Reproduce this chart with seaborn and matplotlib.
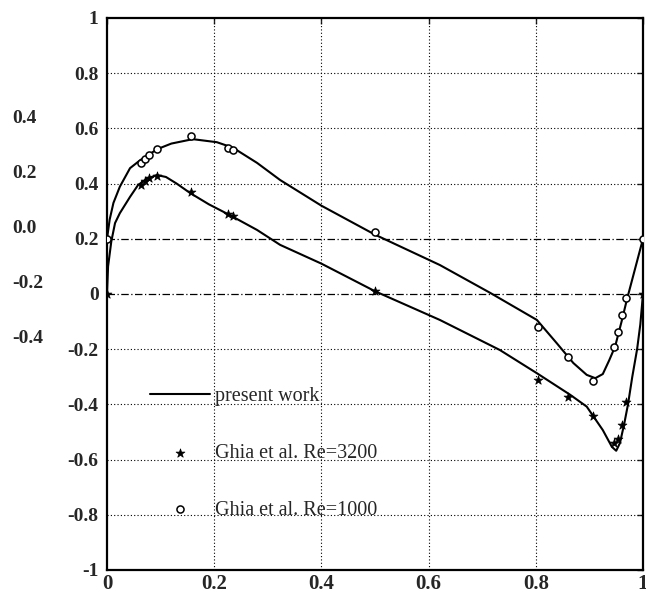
import numpy as np
import pandas as pd
import matplotlib
matplotlib.use("Agg")
import matplotlib.pyplot as plt
import seaborn as sns

# Present work, Re=1000 (plotted shifted by +0.2)
pw1000_x = [0, 0.005, 0.012, 0.024, 0.043, 0.062, 0.078, 0.094, 0.12, 0.16, 0.205, 0.235, 0.28,
            0.323, 0.4, 0.5, 0.621, 0.715, 0.802, 0.839, 0.87, 0.895, 0.911, 0.925, 0.937,
            0.948, 0.96, 0.970, 0.985, 1.0]
pw1000_y = [0.2, 0.27, 0.33, 0.389, 0.456, 0.485, 0.505, 0.525, 0.545, 0.561, 0.55, 0.53, 0.475,
            0.413, 0.32, 0.215, 0.105, 0.004, -0.094, -0.178, -0.25, -0.293, -0.305, -0.29, -0.24,
            -0.19, -0.10, -0.02, 0.09, 0.2]

# Present work, Re=3200
pw3200_x = [0, 0.002, 0.008, 0.015, 0.024, 0.043, 0.058, 0.075, 0.093, 0.11, 0.13, 0.155, 0.19,
            0.229, 0.28, 0.323, 0.4, 0.5, 0.621, 0.733, 0.802, 0.864, 0.895, 0.925, 0.942, 0.95,
            0.957, 0.965, 0.972, 0.98, 0.989, 0.995, 1.0]
pw3200_y = [0, 0.1, 0.19, 0.257, 0.293, 0.352, 0.395, 0.418, 0.431, 0.424, 0.40, 0.366, 0.325,
            0.286, 0.232, 0.178, 0.11, 0.01, -0.094, -0.203, -0.287, -0.365, -0.408, -0.493,
            -0.554, -0.568, -0.54, -0.47, -0.40, -0.30, -0.2, -0.11, 0.0]

# Ghia et al. data
ghia_x = [0.0, 0.0625, 0.0703, 0.0781, 0.0938, 0.1563, 0.2266, 0.2344, 0.5, 0.8047, 0.8594,
          0.9063, 0.9453, 0.9531, 0.9609, 0.9688, 1.0]
ghia1000_v = [0.0, 0.27485, 0.29012, 0.30353, 0.32627, 0.37095, 0.33075, 0.32235, 0.02526,
              -0.31966, -0.42665, -0.51550, -0.39188, -0.33714, -0.27669, -0.21388, 0.0]
ghia3200_v = [0.0, 0.39560, 0.40917, 0.41906, 0.42768, 0.37119, 0.29030, 0.28188, 0.00999,
              -0.31184, -0.37401, -0.44307, -0.54053, -0.52357, -0.47425, -0.39017, 0.0]
shift_1000 = 0.2

x_ticks = [0, 0.2, 0.4, 0.6, 0.8, 1]
x_labels = ["0", "0.2", "0.4", "0.6", "0.8", "1"]
y_ticks = [1, 0.8, 0.6, 0.4, 0.2, 0, -0.2, -0.4, -0.6, -0.8, -1]
y_labels = ["1", "0.8", "0.6", "0.4", "0.2", "0", "-0.2", "-0.4", "-0.6", "-0.8", "-1"]
sec_labels = ["0.4", "0.2", "0.0", "-0.2", "-0.4"]
sec_values = [0.4, 0.2, 0.0, -0.2, -0.4]

sns.set_style("white")
plt.rcParams['font.family'] = ['Liberation Serif', 'DejaVu Serif']

fig = plt.figure(figsize=(6.46, 6.01), dpi=100)
ax = fig.add_axes([107/646, 1-570/601, (643-107)/646, (570-18)/601])

df_pw1000 = pd.DataFrame({"x": pw1000_x, "y": pw1000_y})
df_pw3200 = pd.DataFrame({"x": pw3200_x, "y": pw3200_y})
df_g1000 = pd.DataFrame({"x": ghia_x, "y": np.array(ghia1000_v) + shift_1000})
df_g3200 = pd.DataFrame({"x": ghia_x, "y": ghia3200_v})

# grid lines
for yv in y_ticks:
    if yv in (0, 0.2):
        ax.axhline(yv, color="black", lw=0.9, ls=(0, (6, 2, 1, 2)), zorder=1)
    elif yv not in (1, -1):
        ax.axhline(yv, color="black", lw=0.8, ls=(0, (1, 2)), zorder=1)
for xv in x_ticks[1:-1]:
    ax.axvline(xv, color="black", lw=0.8, ls=(0, (1, 2)), zorder=1)

sns.lineplot(data=df_pw1000, x="x", y="y", sort=False, color="black", lw=1.5, ax=ax,
             label="present work", zorder=3)
sns.lineplot(data=df_pw3200, x="x", y="y", sort=False, color="black", lw=1.5, ax=ax, zorder=3)
sns.scatterplot(data=df_g3200, x="x", y="y", marker="*", s=45, color="black", edgecolor="black",
                linewidth=0.5, ax=ax, label="Ghia et al. Re=3200", zorder=4)
sns.scatterplot(data=df_g1000, x="x", y="y", marker="o", s=26, facecolor="white",
                edgecolor="black", linewidth=1.1, ax=ax, label="Ghia et al. Re=1000", zorder=4)

ax.set_xlim(0, 1)
ax.set_ylim(-1, 1)
ax.set_xlabel("")
ax.set_ylabel("")
ax.set_xticks(x_ticks)
ax.set_xticklabels(x_labels, fontsize=15, fontweight="bold")
ax.set_yticks(y_ticks)
ax.set_yticklabels(y_labels, fontsize=14, fontweight="bold")
ax.tick_params(direction="in", length=4, width=1, top=True, right=True)
ax.tick_params(axis="y", pad=6)
ax.tick_params(axis="x", pad=3)
for sp in ax.spines.values():
    sp.set_linewidth(1.6)
    sp.set_color("black")

# secondary labels (for shifted Re=1000 data)
for lab, v in zip(sec_labels, sec_values):
    ax.text(-0.176, v + shift_1000 + 0.037, lab, transform=ax.get_yaxis_transform(),
            ha="left", va="center", fontsize=14, fontweight="bold")

leg = ax.legend(loc="upper left", bbox_to_anchor=(0.08, 0.332), frameon=False,
                fontsize=14.5, handlelength=3.0, handletextpad=0.25, labelspacing=1.88,
                borderpad=0, borderaxespad=0, markerscale=1.0)

fig.savefig("out.png", dpi=100)
